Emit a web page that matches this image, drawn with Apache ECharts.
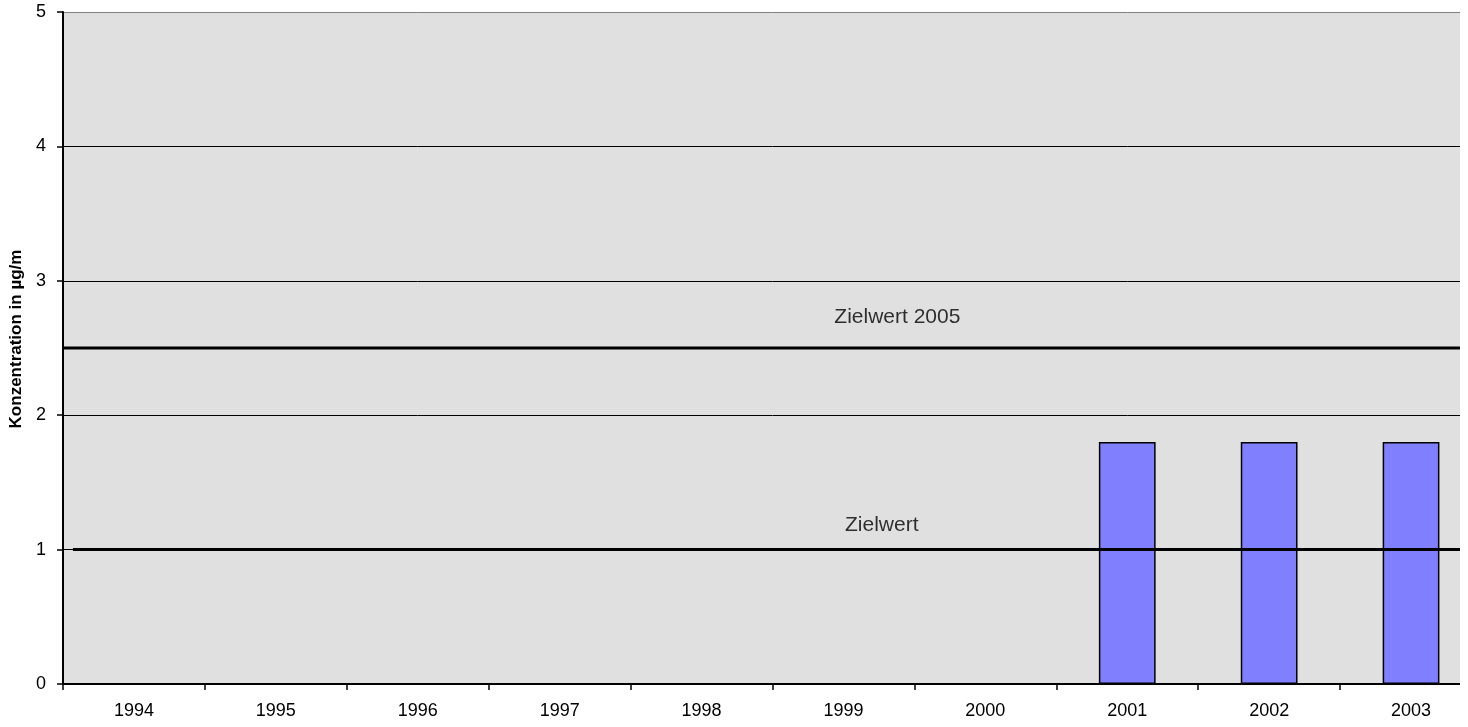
<!DOCTYPE html>
<html>
<head>
<meta charset="utf-8">
<title>Konzentration</title>
<script src="https://cdn.jsdelivr.net/npm/echarts@6/dist/echarts.min.js"></script>
<style>
  html, body { margin: 0; padding: 0; background: #ffffff; }
  #frame { width: 1460px; height: 727px; overflow: hidden; }
  #chart { width: 1490px; height: 727px; }
</style>
</head>
<body>
<div id="frame"><div id="chart"></div></div>
<script>
// Years on the category axis
const years = ['1994', '1995', '1996', '1997', '1998', '1999', '2000', '2001', '2002', '2003'];
// Annual mean concentration (µg/m³); no measurements before 2001
const concentration = [null, null, null, null, null, null, null, 1.8, 1.8, 1.8];
// Target values drawn as horizontal reference lines
const targetNames = ['Zielwert 2005', 'Zielwert'];
const targetValues = [2.5, 1];
// Value-axis ticks
const yTicks = [0, 1, 2, 3, 4, 5];

const FONT = 'Liberation Sans, Arial, sans-serif';

// label placement for each target line (in position along the years, pixel offset above line)
const targetLabelX = [5.88, 5.77];
const targetLabelLift = [-31, -24];
const targetLineStart = [0, 0.07];

const chart = echarts.init(document.getElementById('chart'), null, { renderer: 'canvas' });

const targetLineSeries = targetValues.map((v, i) => ({
  type: 'line',
  xAxisIndex: 1,
  yAxisIndex: 0,
  data: [[targetLineStart[i], v], [10, v]],
  symbol: 'none',
  silent: true,
  z: 5,
  lineStyle: { color: '#000000', width: 3 }
}));

const targetLabelSeries = {
  type: 'scatter',
  xAxisIndex: 1,
  yAxisIndex: 0,
  symbolSize: 0,
  silent: true,
  z: 6,
  data: targetValues.map((v, i) => ({
    value: [targetLabelX[i], v],
    name: targetNames[i],
    label: { offset: [0, targetLabelLift[i]] }
  })),
  label: {
    show: true,
    position: 'inside',
    formatter: p => p.name,
    color: '#000000',
    fontFamily: FONT,
    fontSize: 21
  }
};

chart.setOption({
  animation: false,
  backgroundColor: '#ffffff',
  grid: {
    left: 62, right: 8, top: 12, bottom: 43,
    show: true,
    backgroundColor: '#e0e0e0',
    borderWidth: 0
  },
  xAxis: [
    {
      type: 'category',
      data: years,
      boundaryGap: true,
      axisLine: { show: true, lineStyle: { color: '#000000', width: 2 } },
      axisTick: { show: true, length: 6, alignWithLabel: false, lineStyle: { color: '#000000', width: 1.5 } },
      axisLabel: { color: '#000000', fontFamily: FONT, fontSize: 18, margin: 18 },
      splitLine: { show: false }
    },
    {
      type: 'value',
      min: 0, max: 10,
      show: false
    }
  ],
  yAxis: {
    type: 'value',
    min: yTicks[0],
    max: yTicks[yTicks.length - 1],
    interval: 1,
    name: 'Konzentration in µg/m',
    nameLocation: 'middle',
    nameGap: 38,
    nameRotate: 90,
    nameTextStyle: {
      color: '#000000', fontFamily: FONT, fontSize: 17, fontWeight: 'bold',
      padding: [0, 0, 0, 18]
    },
    axisLine: { show: true, lineStyle: { color: '#000000', width: 2 } },
    axisTick: { show: true, length: 6, lineStyle: { color: '#000000', width: 1.5 } },
    axisLabel: { color: '#000000', fontFamily: FONT, fontSize: 18, margin: 17 },
    splitLine: {
      show: true,
      lineStyle: { color: ['#000000', '#000000', '#000000', '#000000', '#000000', '#808080'], width: 1 }
    }
  },
  series: [
    {
      type: 'bar',
      data: concentration,
      barWidth: '40%',
      z: 3,
      itemStyle: { color: '#8080ff', borderColor: '#000000', borderWidth: 1.5 }
    },
    ...targetLineSeries,
    targetLabelSeries
  ]
});
</script>
</body>
</html>
